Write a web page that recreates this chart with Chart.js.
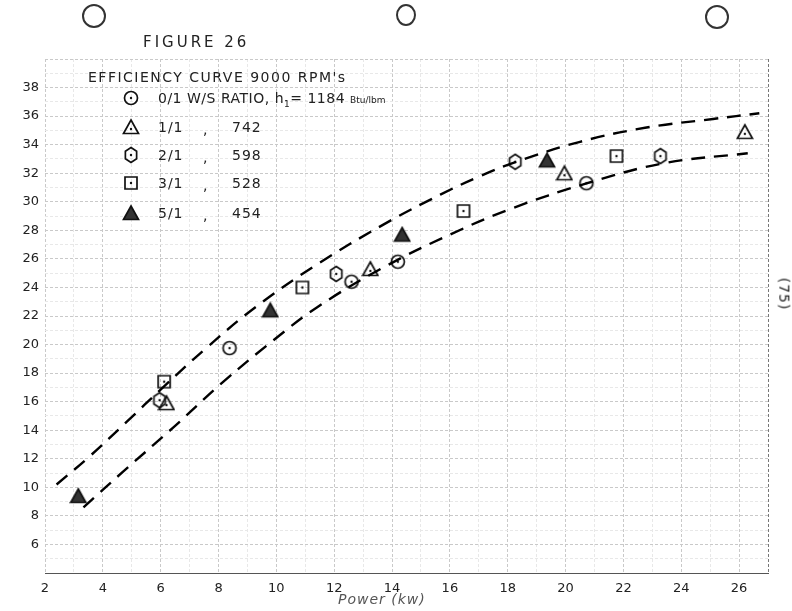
<!DOCTYPE html>
<html>
<head>
<meta charset="utf-8">
<script src="https://cdn.jsdelivr.net/npm/chart.js@4/dist/chart.umd.min.js"></script>
<style>
  body { margin: 0; background: #fff; }
  #wrap { position: relative; width: 792px; height: 611px; overflow: hidden; font-family: "DejaVu Sans", sans-serif; color: #222; }
  #chart { position: absolute; left: 0; top: 0; }
  .t { position: absolute; white-space: nowrap; font-size: 14px; letter-spacing: 1px; }
  .hole { position: absolute; border: 2px solid #333; border-radius: 50%; }
</style>
</head>
<body>
<div id="wrap">
  <canvas id="chart" width="792" height="611"></canvas>
  <div class="hole" style="left:82px;top:4px;width:20px;height:20px"></div>
  <div class="hole" style="left:396px;top:4px;width:16px;height:18px"></div>
  <div class="hole" style="left:705px;top:5px;width:20px;height:20px"></div>

  <div class="t" style="left:143px;top:33px;font-size:15px;letter-spacing:3px">FIGURE 26</div>
  <div class="t" style="left:88px;top:69px;font-size:14px;letter-spacing:1.5px">EFFICIENCY CURVE&nbsp;9000 RPM's</div>

  <div class="t" style="left:158px;top:90px;letter-spacing:0.5px">0/1 W/S RATIO, h<sub style="font-size:9px">1</sub>= 1184 <span style="font-size:9px;letter-spacing:0">Btu/lbm</span></div>
  <div class="t" style="left:158px;top:119px">1/1</div><div class="t" style="left:203px;top:121px">,</div><div class="t" style="left:232px;top:119px">742</div>
  <div class="t" style="left:158px;top:147px">2/1</div><div class="t" style="left:203px;top:149px">,</div><div class="t" style="left:232px;top:147px">598</div>
  <div class="t" style="left:158px;top:175px">3/1</div><div class="t" style="left:203px;top:177px">,</div><div class="t" style="left:232px;top:175px">528</div>
  <div class="t" style="left:158px;top:205px">5/1</div><div class="t" style="left:203px;top:207px">,</div><div class="t" style="left:232px;top:205px">454</div>

  <div class="t" style="left:338px;top:591px;font-size:14px;font-style:italic;color:#555">Power (kw)</div>
  <div class="t" style="left:768px;top:286px;font-size:14px;transform:rotate(90deg)">(75)</div>
</div>

<script>
// tick labels
const xTickLabels = [2, 4, 6, 8, 10, 12, 14, 16, 18, 20, 22, 24, 26];
const yTickLabels = [6, 8, 10, 12, 14, 16, 18, 20, 22, 24, 26, 28, 30, 32, 34, 36, 38];

// measured points, one pair of arrays per W/S ratio
const ratio0x = [8.38, 12.6, 14.2, 20.72];
const ratio0y = [19.75, 24.4, 25.8, 31.3];
const ratio1x = [6.2, 13.25, 19.96, 26.2];
const ratio1y = [15.9, 25.3, 32.0, 34.9];
const ratio2x = [5.96, 12.07, 18.26, 23.28];
const ratio2y = [16.1, 24.95, 32.8, 33.2];
const ratio3x = [6.12, 10.9, 16.47, 21.76];
const ratio3y = [17.4, 24.0, 29.35, 33.2];
const ratio5x = [3.15, 9.79, 14.35, 19.36];
const ratio5y = [9.4, 22.4, 27.7, 32.9];

// dashed band
const upperX = [2.4, 3.56, 4.83, 6.08, 7.6, 9.33, 11.4, 13.7, 15.67, 17.05, 18.3, 20.5, 22.8, 25.1, 26.7];
const upperY = [10.2, 12.2, 14.6, 17.0, 19.8, 22.7, 25.6, 28.4, 30.5, 31.8, 32.8, 34.2, 35.2, 35.8, 36.2];
const lowerX = [3.33, 4.7, 6.44, 8.17, 9.9, 11.4, 13.7, 16.0, 18.1, 20.75, 23.4, 26.3];
const lowerY = [8.6, 11.1, 14.2, 17.4, 20.3, 22.6, 25.4, 27.7, 29.5, 31.3, 32.7, 33.4];

const pts = (xs, ys) => xs.map((x, i) => ({ x, y: ys[i] }));

function makeMarker(shape) {
  const c = document.createElement('canvas');
  c.width = 18; c.height = 18;
  const g = c.getContext('2d');
  g.strokeStyle = '#111';
  g.fillStyle = '#111';
  g.lineWidth = 1.7;
  g.beginPath();
  if (shape === 'circle') {
    g.arc(9, 9, 6.5, 0, Math.PI * 2);
  } else if (shape === 'rect') {
    g.rect(3, 3, 12, 12);
  } else if (shape === 'hex') {
    for (let k = 0; k < 6; k++) {
      const a = -Math.PI / 2 + k * Math.PI / 3;
      const px = 9 + 6.5 * Math.cos(a), py = 9 + 7.5 * Math.sin(a);
      k ? g.lineTo(px, py) : g.moveTo(px, py);
    }
    g.closePath();
  } else {
    g.moveTo(9, 2); g.lineTo(16.5, 15.5); g.lineTo(1.5, 15.5); g.closePath();
  }
  if (shape === 'filled') {
    g.fillStyle = '#333';
    g.fill();
    g.stroke();
    return c;
  }
  g.stroke();
  g.beginPath();
  g.arc(9, shape === 'tri' ? 11 : 9, 1.2, 0, Math.PI * 2);
  g.fill();
  return c;
}

const markers = {
  r0: makeMarker('circle'),
  r1: makeMarker('tri'),
  r2: makeMarker('hex'),
  r3: makeMarker('rect'),
  r5: makeMarker('filled'),
};

const legendMarks = {
  id: 'legendMarks',
  afterDraw(chart) {
    const ctx = chart.ctx;
    const list = [markers.r0, markers.r1, markers.r2, markers.r3, markers.r5];
    const rows = [98, 127, 155, 183, 213];
    list.forEach((m, i) => ctx.drawImage(m, 122, rows[i] - 9));
  },
};

function scatterSet(label, data, marker) {
  return { label, data, pointStyle: marker, pointRadius: 8, showLine: false };
}

function curveSet(label, data) {
  return {
    label, data, showLine: true, pointRadius: 0,
    borderColor: '#000', borderWidth: 2.4, borderDash: [14, 9],
    tension: 0.4,
  };
}

const gridColor = ctx => {
  const v = ctx.tick ? ctx.tick.value : 0;
  if (ctx.scale.axis === 'x' && v === 27) return '#777';
  return v % 2 === 0 ? '#c9c9c9' : '#e8e8e8';
};

new Chart(document.getElementById('chart'), {
  type: 'scatter',
  data: {
    datasets: [
      curveSet('upper', pts(upperX, upperY)),
      curveSet('lower', pts(lowerX, lowerY)),
      scatterSet('0/1', pts(ratio0x, ratio0y), markers.r0),
      scatterSet('1/1', pts(ratio1x, ratio1y), markers.r1),
      scatterSet('2/1', pts(ratio2x, ratio2y), markers.r2),
      scatterSet('3/1', pts(ratio3x, ratio3y), markers.r3),
      scatterSet('5/1', pts(ratio5x, ratio5y), markers.r5),
    ],
  },
  options: {
    responsive: false,
    animation: false,
    layout: { padding: { left: 5, right: 24, top: 59, bottom: 8 } },
    plugins: { legend: { display: false }, tooltip: { enabled: false } },
    scales: {
      x: {
        type: 'linear', min: 2, max: 27,
        afterFit: s => { s.height = 30; },
        ticks: {
          stepSize: 1, autoSkip: false, maxRotation: 0, padding: 8,
          color: '#222', font: { family: 'DejaVu Sans', size: 13 },
          callback: v => (xTickLabels.includes(v) ? v : ''),
        },
        grid: { color: gridColor, drawTicks: false },
        border: { display: true, color: '#555', dash: [3, 2] },
      },
      y: {
        type: 'linear', min: 4, max: 40,
        afterFit: s => { s.width = 40; },
        ticks: {
          stepSize: 1, autoSkip: false, padding: 6,
          color: '#222', font: { family: 'DejaVu Sans', size: 13 },
          callback: v => (yTickLabels.includes(v) ? v : ''),
        },
        grid: { color: gridColor, drawTicks: false },
        border: { display: false, dash: [3, 2] },
      },
    },
  },
  plugins: [legendMarks],
});
</script>
</body>
</html>
